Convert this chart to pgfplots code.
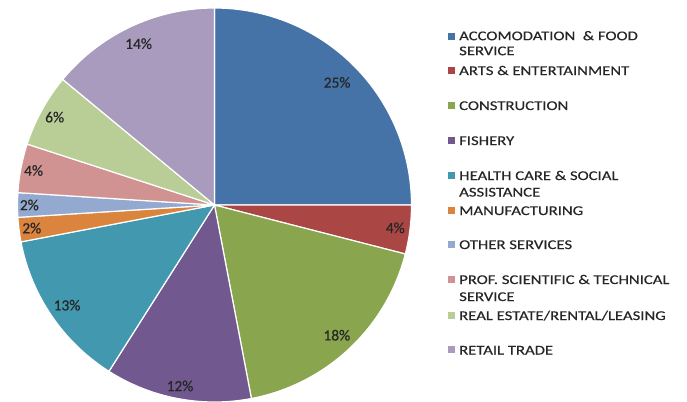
\documentclass[border=0pt]{standalone}
\usepackage{pgfplots}
\pgfplotsset{compat=1.18}
\usepackage{pgfplotstable}
\usepackage{fontspec}
\setmainfont{Carlito}[FakeStretch=1.25, FakeBold=0.4]
\newfontfamily\lblfont{Carlito}[FakeBold=0.4]
\definecolor{pie0}{HTML}{4572A7}
\definecolor{pie1}{HTML}{AA4643}
\definecolor{pie2}{HTML}{89A54E}
\definecolor{pie3}{HTML}{71588F}
\definecolor{pie4}{HTML}{4198AF}
\definecolor{pie5}{HTML}{DB843D}
\definecolor{pie6}{HTML}{93A9CF}
\definecolor{pie7}{HTML}{D19392}
\definecolor{pie8}{HTML}{B9CD96}
\definecolor{pie9}{HTML}{A99BBD}
\definecolor{txt}{HTML}{262626}

% pct = share of the slice; lr = label distance as fraction of radius
\pgfplotstableread{
pct lr
25 0.88
4 0.925
18 0.907
12 0.935
13 0.905
2 0.935
2 0.94
4 0.935
6 0.926
14 0.905
}\piedata

\begin{document}
\begin{tikzpicture}
\useasboundingbox (0,0) rectangle (687bp,402bp);
\begin{axis}[x=1bp, y=1bp, xmin=0, xmax=687, ymin=0, ymax=402,
  hide axis, scale only axis, clip=true, at={(0,0)}, anchor=south west]
\def\cx{214.5}
\def\cy{197}
\def\rr{197}
\gdef\curangle{90}
\pgfplotsforeachungrouped \i in {0,...,9}{%
  \pgfplotstablegetelem{\i}{pct}\of\piedata
  \let\pv\pgfplotsretval
  \pgfplotstablegetelem{\i}{lr}\of\piedata
  \let\lrv\pgfplotsretval
  \pgfmathsetmacro\a{\curangle}%
  \pgfmathsetmacro\b{\curangle-3.6*\pv}%
  \pgfmathsetmacro\m{(\a+\b)/2}%
  \pgfmathsetmacro\lx{\cx+\lrv*\rr*cos(\m)}%
  \pgfmathsetmacro\ly{\cy+\lrv*\rr*sin(\m)}%
  \pgfmathtruncatemacro\pint{\pv}%
  \edef\temp{%
    \noexpand\addplot[fill=pie\i, draw=white, line width=1.2bp, domain=\b:\a, samples=80, variable=\noexpand\t]
      ({\cx+\rr*cos(\noexpand\t)},{\cy+\rr*sin(\noexpand\t)}) -- (\cx,\cy) -- cycle;
    \noexpand\node[text=txt, font=\noexpand\lblfont\noexpand\fontsize{15.5}{17}\noexpand\selectfont] at (\lx,\ly) {\pint\noexpand\%};
  }%
  \temp
  \xdef\curangle{\b}%
}
% legend markers
\addplot[only marks, mark=square*, mark size=3bp, color=pie0] coordinates {(451,365.5)};
\addplot[only marks, mark=square*, mark size=3bp, color=pie1] coordinates {(451,331.5)};
\addplot[only marks, mark=square*, mark size=3bp, color=pie2] coordinates {(451,296.5)};
\addplot[only marks, mark=square*, mark size=3bp, color=pie3] coordinates {(451,261.5)};
\addplot[only marks, mark=square*, mark size=3bp, color=pie4] coordinates {(451,226.5)};
\addplot[only marks, mark=square*, mark size=3bp, color=pie5] coordinates {(451,191.5)};
\addplot[only marks, mark=square*, mark size=3bp, color=pie6] coordinates {(451,158)};
\addplot[only marks, mark=square*, mark size=3bp, color=pie7] coordinates {(451,123)};
\addplot[only marks, mark=square*, mark size=3bp, color=pie8] coordinates {(451,87)};
\addplot[only marks, mark=square*, mark size=3bp, color=pie9] coordinates {(451,52.5)};
\begin{scope}[every node/.style={anchor=base west, inner sep=0pt, text=txt, font=\fontsize{13.4}{15}\selectfont}]
\node at (459,361.8) {ACCOMODATION\ \ \& FOOD};
\node at (459,346.8) {SERVICE};
\node at (459,327) {ARTS \& ENTERTAINMENT};
\node at (459,292) {CONSTRUCTION};
\node at (459,257) {FISHERY};
\node at (459,222) {HEALTH CARE \& SOCIAL};
\node at (459,205.5) {ASSISTANCE};
\node at (459,187) {MANUFACTURING};
\node at (459,153) {OTHER SERVICES};
\node at (459,118) {PROF. SCIENTIFIC \& TECHNICAL};
\node at (459,101) {SERVICE};
\node at (459,82) {REAL ESTATE/RENTAL/LEASING};
\node at (459,47.5) {RETAIL TRADE};
\end{scope}
\end{axis}
\end{tikzpicture}
\end{document}
